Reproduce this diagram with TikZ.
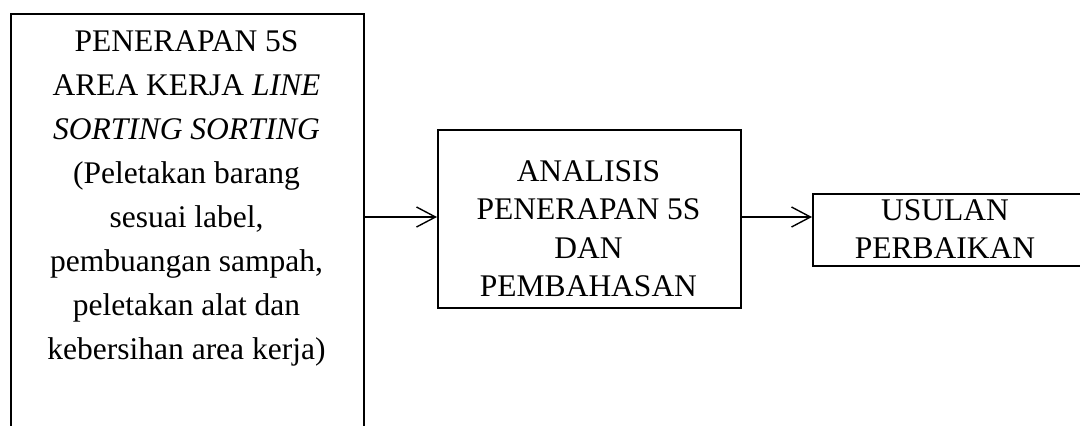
\documentclass[tikz,border=0pt]{standalone}
\usepackage{fontspec}
\setmainfont{Liberation Serif}
\usetikzlibrary{arrows.meta}
\tikzset{
  box/.style={draw=black, line width=2pt, inner sep=0pt, anchor=north west},
  txt/.style={align=center, inner sep=0pt, anchor=north},
  flow/.style={draw=black, line width=1.4pt, -{Straight Barb[length=19pt,width=20pt,line width=1.4pt]}}
}
\begin{document}
\begin{tikzpicture}[x=1pt,y=-1pt]
\useasboundingbox (0,0) rectangle (1080,426);
\node[box, minimum width=353pt, minimum height=440pt] (b1) at (10,13) {};
\node[box, minimum width=303pt, minimum height=178pt] (b2) at (437,129) {};
\node[box, minimum width=272pt, minimum height=72pt] (b3) at (812,193) {};
\node[txt, font=\fontsize{31.5}{44}\selectfont] (t1) at (186.5,30.5) {PENERAPAN 5S\\AREA KERJA \textit{LINE}\\\textit{SORTING SORTING}\\(Peletakan barang\\sesuai label,\\pembuangan sampah,\\peletakan alat dan\\kebersihan area kerja)};
\node[txt, font=\fontsize{31.5}{38.5}\selectfont] (t2) at (588.5,160) {ANALISIS\\PENERAPAN 5S\\DAN\\PEMBAHASAN};
\node[txt, font=\fontsize{31.5}{38.5}\selectfont] (t3) at (945,199) {USULAN\\PERBAIKAN};
\draw[flow] (b1.east |- 0,217) -- (b2.west |- 0,217);
\draw[flow] (b2.east |- 0,217) -- (b3.west |- 0,217);
\end{tikzpicture}
\end{document}
